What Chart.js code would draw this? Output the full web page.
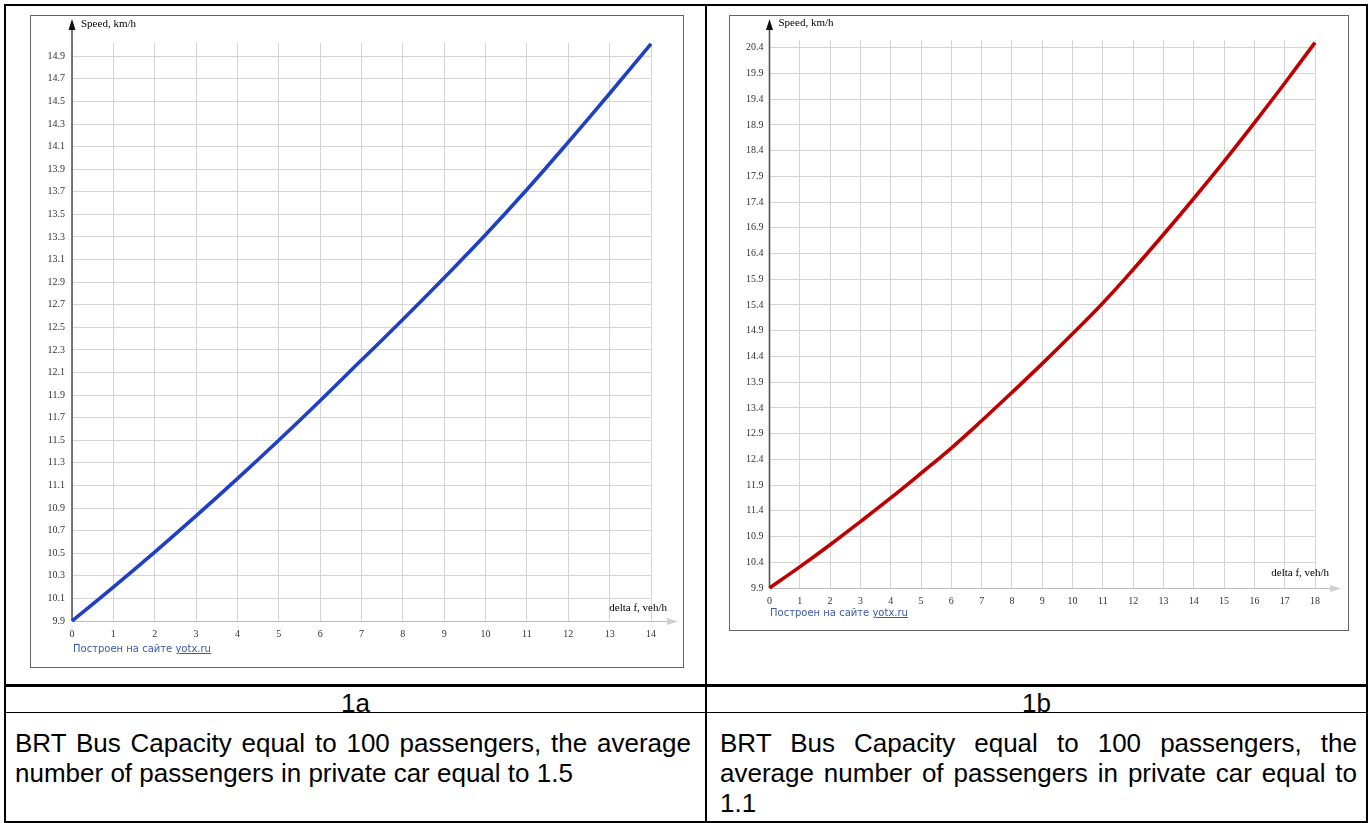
<!DOCTYPE html>
<html>
<head>
<meta charset="utf-8">
<script src="https://cdn.jsdelivr.net/npm/chart.js@4.4.1/dist/chart.umd.min.js"></script>
<style>
  body { margin: 0; background: #fff; }
  #page { position: relative; width: 1371px; height: 823px; overflow: hidden; font-family: "Liberation Sans", Arial, sans-serif; }
  .line { position: absolute; background: #000; }
  .frame { position: absolute; border: 1px solid #666; background: #fff; }
  .frame canvas { display: block; }
  .credit { position: absolute; font: 10px "DejaVu Sans", sans-serif; color: #3c5aa8; white-space: nowrap; }
  .credit u { text-decoration: underline; }
  .cap { position: absolute; font-size: 26px; line-height: 30px; color: #000; }
  .num { text-align: center; }
  .desc { text-align: justify; }
</style>
</head>
<body>
<div id="page">
  <div class="line" style="left:4px;top:4px;width:1364px;height:2px"></div>
  <div class="line" style="left:4px;top:4px;width:2px;height:819px"></div>
  <div class="line" style="left:1366px;top:4px;width:2px;height:819px"></div>
  <div class="line" style="left:4px;top:821px;width:1364px;height:2px"></div>
  <div class="line" style="left:705px;top:4px;width:2px;height:819px"></div>
  <div class="line" style="left:4px;top:684px;width:1364px;height:3px"></div>
  <div class="line" style="left:4px;top:712px;width:1364px;height:1px"></div>

  <div class="frame" style="left:30px;top:15px;width:652px;height:651px">
    <canvas id="chart1a" width="652" height="651"></canvas>
  </div>
  <div class="credit" style="left:73px;top:643px">Построен на сайте <u>yotx.ru</u></div>

  <div class="frame" style="left:729px;top:15px;width:618px;height:614px">
    <canvas id="chart1b" width="618" height="614"></canvas>
  </div>
  <div class="credit" style="left:770px;top:607px">Построен на сайте <u>yotx.ru</u></div>

  <div class="cap num" style="left:6px;top:688px;width:699px">1a</div>
  <div class="cap num" style="left:707px;top:688px;width:659px">1b</div>
  <div class="cap desc" style="left:15px;top:728px;width:676px">BRT Bus Capacity equal to 100 passengers, the average number of passengers in private car equal to 1.5</div>
  <div class="cap desc" style="left:720px;top:728px;width:637px">BRT Bus Capacity equal to 100 passengers, the average number of passengers in private car equal to 1.1</div>
</div>

<script>
// values
const flow1a = [0, 1, 2, 3, 4, 5, 6, 7, 8, 9, 10, 11, 12, 13, 14];
const speed1a = [9.9, 10.2, 10.51, 10.83, 11.16, 11.5, 11.85, 12.21, 12.57, 12.94, 13.32, 13.72, 14.14, 14.57, 15.01];
const yTicks1a = [9.9, 10.1, 10.3, 10.5, 10.7, 10.9, 11.1, 11.3, 11.5, 11.7, 11.9, 12.1, 12.3, 12.5, 12.7, 12.9, 13.1, 13.3, 13.5, 13.7, 13.9, 14.1, 14.3, 14.5, 14.7, 14.9];

const flow1b = [0, 1, 2, 3, 4, 5, 6, 7, 8, 9, 10, 11, 12, 13, 14, 15, 16, 17, 18];
const speed1b = [9.9, 10.31, 10.74, 11.19, 11.65, 12.13, 12.62, 13.15, 13.7, 14.26, 14.84, 15.44, 16.09, 16.77, 17.47, 18.19, 18.94, 19.71, 20.5];
const yTicks1b = [9.9, 10.4, 10.9, 11.4, 11.9, 12.4, 12.9, 13.4, 13.9, 14.4, 14.9, 15.4, 15.9, 16.4, 16.9, 17.4, 17.9, 18.4, 18.9, 19.4, 19.9, 20.4];

const axisDecor = {
  id: 'axisDecor',
  beforeDatasetsDraw(chart, args, o) {
    const { ctx, chartArea: a } = chart;
    const yb = Math.round(a.bottom) + 0.5;
    ctx.save();
    // x axis with light arrow
    ctx.strokeStyle = '#bdbdbd';
    ctx.lineWidth = 1;
    ctx.beginPath();
    ctx.moveTo(a.left, yb);
    ctx.lineTo(o.xTip - 4, yb);
    ctx.stroke();
    ctx.fillStyle = '#cfcfcf';
    ctx.beginPath();
    ctx.moveTo(o.xTip, yb);
    ctx.lineTo(o.xTip - 11, yb - 3.5);
    ctx.lineTo(o.xTip - 11, yb + 3.5);
    ctx.closePath();
    ctx.fill();
    // y axis with dark arrow
    ctx.strokeStyle = '#555';
    ctx.lineWidth = 1.6;
    ctx.beginPath();
    ctx.moveTo(a.left, a.bottom);
    ctx.lineTo(a.left, o.yTip + 6);
    ctx.stroke();
    ctx.fillStyle = '#111';
    ctx.beginPath();
    ctx.moveTo(a.left, o.yTip);
    ctx.lineTo(a.left - 3.5, o.yTip + 11);
    ctx.lineTo(a.left + 3.5, o.yTip + 11);
    ctx.closePath();
    ctx.fill();
    // axis titles
    ctx.font = '11px "Liberation Serif", serif';
    ctx.fillStyle = '#000';
    ctx.textBaseline = 'middle';
    ctx.textAlign = 'left';
    ctx.fillText('Speed, km/h', a.left + 9, o.titleY);
    ctx.textAlign = 'right';
    ctx.fillText('delta f, veh/h', o.deltaX, o.deltaY);
    ctx.restore();
  }
};

function drawSpeedChart(id, flows, speeds, yTicks, yMax, color, box) {
  const tickFont = { family: '"Liberation Serif", serif', size: 10 };
  return new Chart(document.getElementById(id), {
    type: 'line',
    data: {
      datasets: [{
        data: flows.map((f, i) => ({ x: f, y: speeds[i] })),
        borderColor: color,
        borderWidth: 3.6,
        pointRadius: 0,
        tension: 0.4,
        clip: false
      }]
    },
    options: {
      responsive: false,
      animation: false,
      devicePixelRatio: 1,
      layout: { padding: { left: 0, top: box.top, right: box.right, bottom: 0 } },
      plugins: {
        legend: { display: false },
        tooltip: { enabled: false },
        axisDecor: box.decor
      },
      scales: {
        x: {
          type: 'linear',
          min: flows[0],
          max: flows[flows.length - 1],
          afterFit: s => { s.height = box.xHeight; },
          ticks: { stepSize: 1, color: '#333', font: tickFont, padding: 7, maxRotation: 0 },
          grid: { color: '#d5d5d5', lineWidth: 1, drawTicks: false },
          border: { display: false }
        },
        y: {
          min: yTicks[0],
          max: yMax,
          afterFit: s => { s.width = box.yWidth; },
          afterBuildTicks: s => { s.ticks = yTicks.map(v => ({ value: v })); },
          ticks: { color: '#333', font: tickFont, padding: box.yPad, callback: v => v.toFixed(1) },
          grid: { color: '#d5d5d5', lineWidth: 1, drawTicks: false },
          border: { display: false }
        }
      }
    },
    plugins: [axisDecor]
  });
}

drawSpeedChart('chart1a', flow1a, speed1a, yTicks1a, 15.02, '#1f3fc6', {
  top: 26.7, right: 32, xHeight: 46, yWidth: 41, yPad: 7,
  decor: { xTip: 647, yTip: 3, titleY: 8, deltaX: 636, deltaY: 592 }
});

drawSpeedChart('chart1b', flow1b, speed1b, yTicks1b, 20.55, '#c00000', {
  top: 24, right: 33, xHeight: 42, yWidth: 39.5, yPad: 6,
  decor: { xTip: 611, yTip: 3, titleY: 7, deltaX: 599, deltaY: 557 }
});
</script>
</body>
</html>
